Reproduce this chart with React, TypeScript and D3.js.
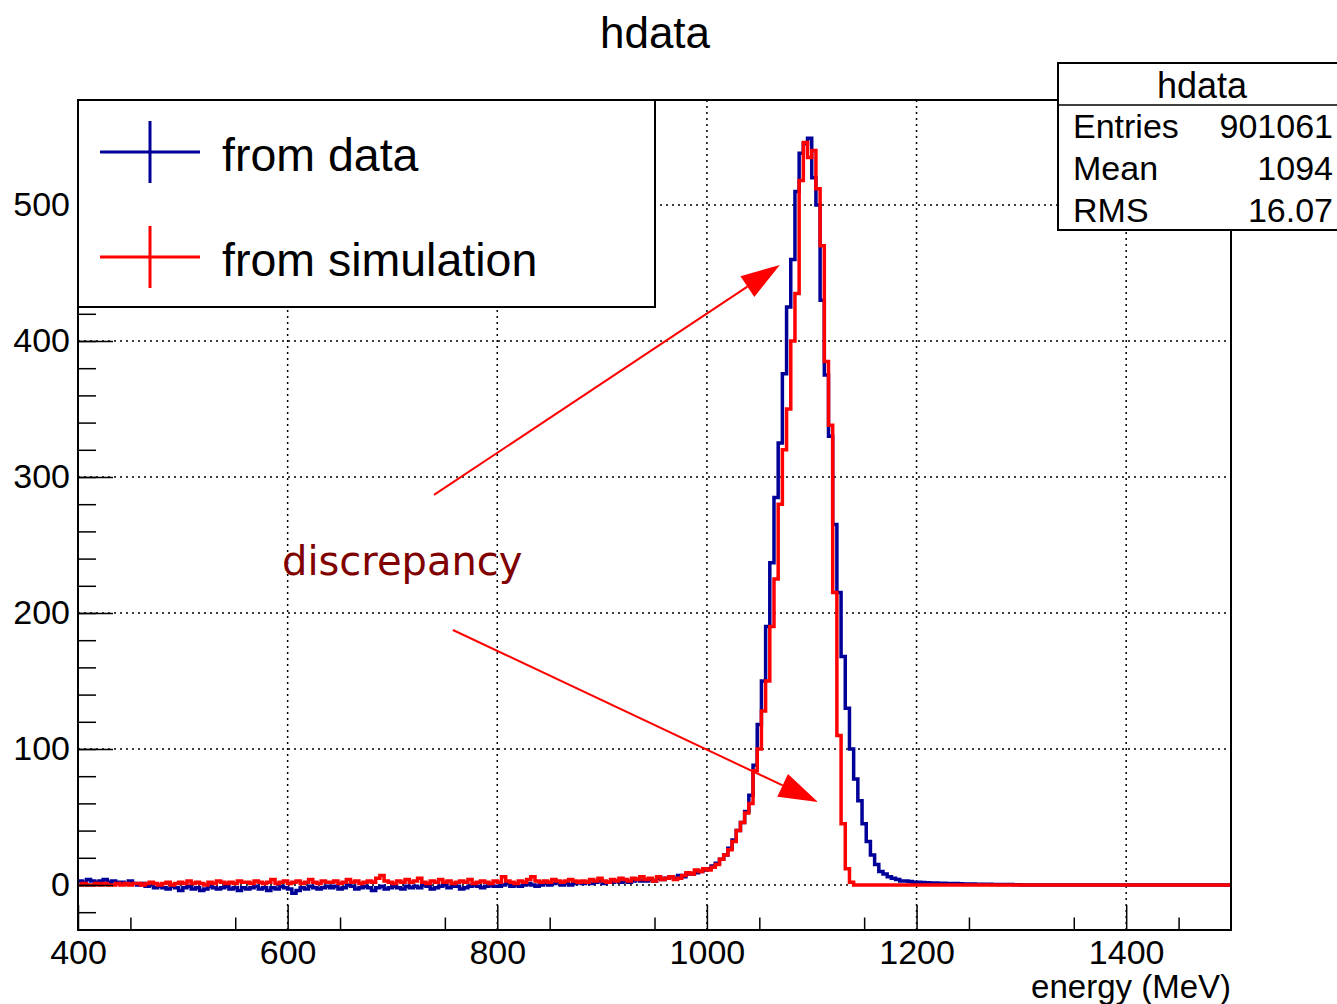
import React, { useEffect, useRef } from 'react'
import * as d3 from 'd3'

// histogram binning (MeV)
const xLo = 400
const xHi = 1500
const binWidth = 4

// "from data" counts, 400-940 / 940-1200 / 1200-1500
const dataLow = [
  3, 2, 4, 3, 2, 3, 4, 2, 3, 2,
  2, 1, 3, 1, 0, 1, -1, 0, -2, -1,
  -2, -3, -1, -2, -4, -2, -1, -3, -2, -4, -3, -1, -2, -3, -2, -1, -3, -2, -4, -2,
  -3, -2, -1, -3, -2, -4, -2, -3, -1, -2, -3, -6, -4, -2, -3, -1, -2, -3, -2, -1,
  -2, -1, -3, -2, 0, -1, -3, -2, -1, -2, -4, -2, -1, -3, -2, -1, -2, -3, -1, -2,
  -1, -2, 0, -1, -3, -2, -1, 0, -2, -1, -1, -3, -2, -1, 0, -1, -2, -1, 0, -1,
  -1, 0, 1, -1, 0, -1, 0, 1, 0, -1, 0, 1, 0, 1, 2, 0, 1, 0, 1, 2,
  1, 2, 1, 2, 3, 1, 2, 2, 3, 2, 3, 2, 3, 4, 3,
]
const dataPeak = [
  3, 4, 3, 5, 4, 5, 6, 5, 7, 6,
  8, 8, 9, 10, 11, 12, 14, 16, 19, 22,
  27, 33, 40, 46, 54, 66, 88, 118, 150, 190,
  237, 285, 325, 376, 425, 460, 510, 538, 545, 549,
  520, 500, 430, 375, 330, 265, 215, 168, 130, 100,
  78, 62, 45, 32, 22, 15, 10, 8, 6, 5,
  4, 3, 3, 2.5, 2,
]
const dataHigh = [
  2, 1.8, 1.6, 1.5, 1.4, 1.3, 1.2, 1.1, 1, 1, 0.9, 0.8, 0.8, 0.7, 0.6, 0.6, 0.5, 0.5, 0.4, 0.4, 0.3, 0.3, 0.3, 0.2, 0.2,
  0, 0, 0, 0, 0, 0, 0, 0, 0, 0, 0, 0, 0, 0, 0, 0, 0, 0, 0, 0, 0, 0, 0, 0, 0,
  0, 0, 0, 0, 0, 0, 0, 0, 0, 0, 0, 0, 0, 0, 0, 0, 0, 0, 0, 0, 0, 0, 0, 0, 0,
]

// "from simulation" counts
const simLow = [
  0, 1, 0, 0, 1, 0, 1, 0, 0, 1, 0, 1, 0, 1, 1, 0, 1, 2, 1, 0,
  1, 2, 0, 1, 2, 1, 3, 1, 2, 1, 0, 2, 1, 3, 2, 1, 2, 1, 3, 2,
  2, 1, 3, 2, 1, 2, 4, 1, 2, 3, 1, 2, 3, 1, 2, 4, 2, 1, 3, 2,
  2, 3, 1, 2, 4, 2, 3, 1, 2, 3, 2, 5, 7, 3, 2, 1, 3, 2, 4, 2,
  3, 5, 2, 1, 3, 2, 4, 2, 3, 1, 2, 3, 2, 4, 1, 2, 3, 2, 1, 3,
  2, 6, 3, 2, 1, 3, 2, 4, 6, 3, 2, 3, 2, 4, 3, 2, 3, 4, 3, 2,
  3, 2, 4, 3, 5, 3, 2, 4, 3, 5, 4, 3, 5, 4, 6,
]
const simPeak = [
  4, 5, 3, 6, 4, 5, 6, 4, 5, 7,
  9, 8, 11, 10, 12, 11, 13, 15, 19, 22,
  26, 32, 40, 46, 53, 60, 84, 100, 128, 150,
  190, 225, 280, 320, 350, 400, 435, 518, 546, 535,
  540, 512, 470, 385, 338, 215, 110, 45, 12, 2,
  0, 0, 0, 0, 0, 0, 0, 0, 0, 0,
  0, 0, 0, 0, 0,
]
const simHigh = [
  0, 0, 0, 0, 0, 0, 0, 0, 0, 0, 0, 0, 0, 0, 0, 0, 0, 0, 0, 0, 0, 0, 0, 0, 0,
  0, 0, 0, 0, 0, 0, 0, 0, 0, 0, 0, 0, 0, 0, 0, 0, 0, 0, 0, 0, 0, 0, 0, 0, 0,
  0, 0, 0, 0, 0, 0, 0, 0, 0, 0, 0, 0, 0, 0, 0, 0, 0, 0, 0, 0, 0, 0, 0, 0, 0,
]

const xMajor = [400, 600, 800, 1000, 1200, 1400]
const yMajor = [0, 100, 200, 300, 400, 500]

const statsLabels = ['Entries', 'Mean', 'RMS']
const statsValues = ['901061', '1094', '16.07']

// arrows: [tailE, tailCount, tipE, tipCount]
const arrows = [
  [739.6, 286.8, 1069.6, 455.9],
  [757.7, 187.5, 1105.9, 61],
]

const font = '"Liberation Sans", Arial, Helvetica, sans-serif'
const W = 1337
const H = 1004

function App() {
  const ref = useRef<SVGSVGElement>(null)

  useEffect(() => {
    const svg = d3.select(ref.current)
    svg.selectAll('*').remove()

    const left = 78, right = 1231, top = 100, bottom = 930
    const x = d3.scaleLinear().domain([xLo, xHi]).range([left, right])
    const y = d3.scaleLinear().domain([-33.1, 577.2]).range([bottom, top])

    svg.append('rect').attr('width', W).attr('height', H).attr('fill', 'white')

    svg.append('defs').append('clipPath').attr('id', 'plotclip')
      .append('rect').attr('x', left).attr('y', top).attr('width', right - left).attr('height', bottom - top)

    // grid
    const grid = svg.append('g').attr('stroke', 'black').attr('stroke-width', 1.5).attr('stroke-dasharray', '2,4')
    xMajor.filter(v => v > xLo).forEach(v => {
      grid.append('line').attr('x1', x(v)).attr('x2', x(v)).attr('y1', top).attr('y2', bottom)
    })
    yMajor.forEach(v => {
      grid.append('line').attr('x1', left).attr('x2', right).attr('y1', y(v)).attr('y2', y(v))
    })

    // histograms
    const dataCounts = [...dataLow, ...dataPeak, ...dataHigh]
    const simCounts = [...simLow, ...simPeak, ...simHigh]
    const stepPoints = (counts: number[]) => {
      const pts = counts.map((c, i) => [xLo + i * binWidth, c] as [number, number])
      pts.push([xLo + counts.length * binWidth, counts[counts.length - 1]])
      return pts
    }
    const line = d3.line<[number, number]>()
      .x(d => x(d[0]))
      .y(d => y(d[1]))
      .curve(d3.curveStepAfter)

    const plot = svg.append('g').attr('clip-path', 'url(#plotclip)')
    plot.append('path').attr('d', line(stepPoints(dataCounts)))
      .attr('fill', 'none').attr('stroke', '#000099').attr('stroke-width', 3.5)
    plot.append('path').attr('d', line(stepPoints(simCounts)))
      .attr('fill', 'none').attr('stroke', '#ff0000').attr('stroke-width', 3.5)

    // axes with inward ticks
    const yAxis = svg.append('g').attr('transform', `translate(${left},0)`)
    yAxis.call(d3.axisLeft(y).tickValues(d3.range(-20, 577, 20)).tickSize(-18).tickFormat(() => ''))
    yAxis.call(g => g.select('.domain').remove())
    const yAxisMajor = svg.append('g').attr('transform', `translate(${left},0)`)
    yAxisMajor.call(d3.axisLeft(y).tickValues(yMajor).tickSize(-35).tickPadding(8).tickFormat(d3.format('d')))
    yAxisMajor.call(g => g.select('.domain').remove())

    const xAxis = svg.append('g').attr('transform', `translate(0,${bottom})`)
    xAxis.call(d3.axisBottom(x).tickValues(d3.range(450, 1500, 100)).tickSize(-12.5).tickFormat(() => ''))
    xAxis.call(g => g.select('.domain').remove())
    const xAxisMajor = svg.append('g').attr('transform', `translate(0,${bottom})`)
    xAxisMajor.call(d3.axisBottom(x).tickValues(xMajor).tickSize(-25).tickPadding(10).tickFormat(d3.format('d')))
    xAxisMajor.call(g => g.select('.domain').remove())

    svg.selectAll('.tick line').attr('stroke', 'black').attr('stroke-width', 1.5)
    svg.selectAll('.tick text').attr('font-family', font).attr('font-size', 34).attr('fill', 'black')

    // frame
    svg.append('rect').attr('x', left).attr('y', top).attr('width', right - left).attr('height', bottom - top)
      .attr('fill', 'none').attr('stroke', 'black').attr('stroke-width', 2)

    // axis title
    svg.append('text').attr('x', right).attr('y', 998).attr('text-anchor', 'end')
      .attr('font-family', font).attr('font-size', 33).text('energy (MeV)')

    // title
    svg.append('text').attr('x', 655).attr('y', 48).attr('text-anchor', 'middle')
      .attr('font-family', font).attr('font-size', 44).text('hdata')

    // legend
    const lg = svg.append('g')
    lg.append('rect').attr('x', 78).attr('y', 100).attr('width', 577).attr('height', 207)
      .attr('fill', 'white').attr('stroke', 'black').attr('stroke-width', 2)
    const entries = [
      { label: 'from data', color: '#000099', cy: 152 },
      { label: 'from simulation', color: '#ff0000', cy: 257 },
    ]
    entries.forEach(e => {
      lg.append('line').attr('x1', 100).attr('x2', 200).attr('y1', e.cy).attr('y2', e.cy)
        .attr('stroke', e.color).attr('stroke-width', 3)
      lg.append('line').attr('x1', 150).attr('x2', 150).attr('y1', e.cy - 31).attr('y2', e.cy + 31)
        .attr('stroke', e.color).attr('stroke-width', 3)
      lg.append('text').attr('x', 222).attr('y', e.cy + 19)
        .attr('font-family', font).attr('font-size', 46.5).text(e.label)
    })

    // stats box
    const st = svg.append('g')
    st.append('rect').attr('x', 1058).attr('y', 63).attr('width', 300).attr('height', 167)
      .attr('fill', 'white').attr('stroke', 'black').attr('stroke-width', 2)
    st.append('line').attr('x1', 1058).attr('x2', 1337).attr('y1', 105).attr('y2', 105)
      .attr('stroke', 'black').attr('stroke-width', 1.5)
    st.append('text').attr('x', 1202).attr('y', 98).attr('text-anchor', 'middle')
      .attr('font-family', font).attr('font-size', 36).text('hdata')
    statsLabels.forEach((lab, i) => {
      const by = 138 + i * 42
      st.append('text').attr('x', 1073).attr('y', by)
        .attr('font-family', font).attr('font-size', 34).text(lab)
      st.append('text').attr('x', 1333).attr('y', by).attr('text-anchor', 'end')
        .attr('font-family', font).attr('font-size', 34).text(statsValues[i])
    })

    // annotation
    arrows.forEach(([e0, c0, e1, c1]) => {
      const x0 = x(e0), y0 = y(c0), x1 = x(e1), y1 = y(c1)
      const len = Math.hypot(x1 - x0, y1 - y0)
      const ux = (x1 - x0) / len, uy = (y1 - y0) / len
      const hl = 39, hw = 12.5
      const bx = x1 - ux * hl, by = y1 - uy * hl
      svg.append('line').attr('x1', x0).attr('y1', y0).attr('x2', bx).attr('y2', by)
        .attr('stroke', '#ff0000').attr('stroke-width', 2)
      svg.append('path')
        .attr('d', `M${x1},${y1}L${bx - uy * hw},${by + ux * hw}L${bx + uy * hw},${by - ux * hw}Z`)
        .attr('fill', '#ff0000')
    })
    svg.append('text').attr('x', 282).attr('y', 575)
      .attr('font-family', '"DejaVu Sans", sans-serif').attr('font-size', 40)
      .attr('fill', '#800000').text('discrepancy')
  }, [])

  return (
    <>
      <style>{`body{margin:0}`}</style>
      <svg ref={ref} width={W} height={H} style={{ display: 'block' }} />
    </>
  )
}

export default App
